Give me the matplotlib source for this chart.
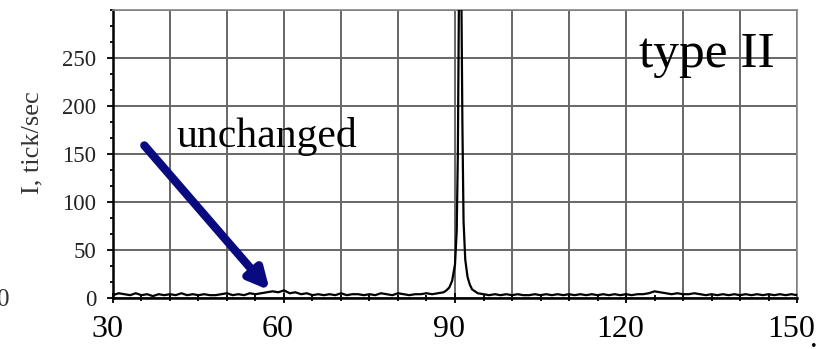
import matplotlib
matplotlib.use("Agg")
import matplotlib.pyplot as plt
from matplotlib.transforms import ScaledTranslation

# angle (deg) and intensity (tick/sec)
angle = [30, 31, 32, 33, 34, 35, 36, 37, 38, 39, 40, 41, 42, 43, 44, 45, 46, 47, 48, 49,
         50, 51, 52, 53, 54, 55, 56, 57, 58, 59, 60, 61, 62, 63, 64, 65, 66, 67, 68, 69,
         70, 71, 72, 73, 74, 75, 76, 77, 78, 79, 80, 81, 82, 83, 84, 85, 86, 87,
         88, 88.5, 89, 89.5, 90, 90.3, 90.5, 90.7, 90.9, 91.1, 91.3, 91.5, 91.8, 92.2,
         92.6, 93, 93.5, 94, 95, 96, 97, 98, 99, 100, 101, 102, 103, 104, 105, 106, 107,
         108, 109, 110, 111, 112, 113, 114, 115, 116, 117, 118, 119, 120, 121, 122, 123,
         124, 125, 126, 127, 128, 129, 130, 131, 132, 133, 134, 135, 136, 137, 138, 139,
         140, 141, 142, 143, 144, 145, 146, 147, 148, 149, 150]
intensity = [3, 5, 4, 3, 5, 3, 4, 2, 4, 3, 4, 3, 5, 3, 4, 3, 4, 3, 3, 4,
             5, 3, 4, 3, 5, 4, 5, 6, 7, 6, 8, 5, 6, 4, 5, 3, 4, 3, 4, 3,
             5, 3, 4, 4, 3, 4, 3, 5, 4, 3, 5, 4, 3, 4, 4, 5, 4, 5,
             6, 8, 11, 18, 35, 70, 150, 320, 340, 330, 180, 80, 40, 22,
             14, 9, 7, 5, 4, 3, 4, 3, 4, 3, 4, 3, 3, 4, 3, 4, 3,
             4, 3, 4, 3, 4, 3, 4, 3, 4, 3, 4, 3, 4, 3, 4, 4,
             5, 7, 6, 5, 4, 5, 4, 4, 5, 4, 3, 4, 3, 4, 3, 4,
             3, 4, 3, 4, 3, 4, 3, 4, 3, 4, 3]

x_ticks = [30, 60, 90, 120, 150]
y_ticks = [0, 50, 100, 150, 200, 250]

plt.rcParams['font.family'] = ['Liberation Serif', 'DejaVu Serif']

fig = plt.figure(figsize=(8.21, 3.49), dpi=100)
ax = fig.add_axes([0.1376, 0.146, 0.8332, 0.825])

ax.plot(angle, intensity, color='black', lw=1.6, zorder=3)
ax.set_xlim(30, 150)
ax.set_ylim(0, 300)

ax.set_xticks(x_ticks)
ax.set_xticks(list(range(30, 151, 5)), minor=True)
ax.set_yticks(y_ticks)
ax.set_yticks([v + d for v in range(0, 300, 50) for d in (0, 50/3, 100/3)] + [300],
              minor=True)

for gx in range(30, 151, 10):
    ax.axvline(gx, color='#666666', lw=1.4, zorder=1)
for gy in range(0, 301, 50):
    ax.axhline(gy, color='#666666', lw=1.4, zorder=1)

ax.tick_params(axis='x', which='both', direction='inout', length=7, width=1.3,
               labelsize=23, pad=9)
ax.tick_params(axis='x', which='minor', length=5)
ax.tick_params(axis='y', which='major', direction='out', length=4, width=1.3,
               labelsize=16.5, pad=8, labelcolor='#222222')
ax.tick_params(axis='y', which='minor', direction='out', length=2, width=1.3)

for lab in ax.get_xticklabels():
    lab.set_transform(lab.get_transform() + ScaledTranslation(-0.06, 0, fig.dpi_scale_trans))

ax.spines['left'].set_color('black')
ax.spines['left'].set_linewidth(1.8)
ax.spines['bottom'].set_color('black')
ax.spines['bottom'].set_linewidth(1.8)
for s in ('top', 'right'):
    ax.spines[s].set_color('#888888')
    ax.spines[s].set_linewidth(1.2)

ax.set_ylabel('I, tick/sec', fontsize=19, color='#333333')
ax.yaxis.set_label_coords(-0.102, 0.54)

ax.annotate('', xy=(57.5, 8), xytext=(35.5, 159),
            arrowprops=dict(arrowstyle='-|>,head_length=1.2,head_width=0.6',
                            color='#0a0a80', lw=6, shrinkA=0, shrinkB=0),
            zorder=4)
ax.text(41.2, 157, 'unchanged', fontsize=30, va='baseline', ha='left', zorder=5)
ax.text(122.3, 240.5, 'type II', fontsize=37, va='baseline', ha='left', zorder=5)

fig.text(-0.004, 0.14, '0', fontsize=18, ha='left', va='center', color='#333333')
fig.text(0.986, -0.015, '.', fontsize=22, ha='left', va='bottom')

fig.savefig('out.png', dpi=100)
